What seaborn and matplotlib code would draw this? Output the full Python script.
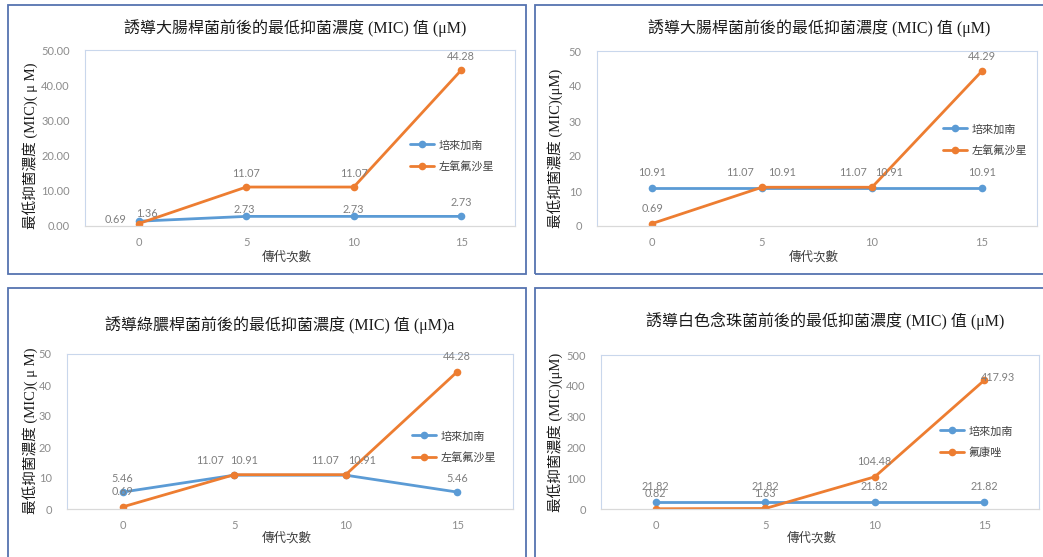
import matplotlib
matplotlib.use("Agg")
import matplotlib.pyplot as plt
from matplotlib.lines import Line2D
from matplotlib.patches import Rectangle
import pandas as pd
import seaborn as sns

# ---------------- data ----------------
passages = [0, 5, 10, 15]

# 大腸桿菌, experiment 1
ecoli1_plz = [1.36, 2.73, 2.73, 2.73]
ecoli1_lvx = [0.69, 11.07, 11.07, 44.28]
# 大腸桿菌, experiment 2
ecoli2_plz = [10.91, 10.91, 10.91, 10.91]
ecoli2_lvx = [0.69, 11.07, 11.07, 44.29]
# 綠膿桿菌
pa_plz = [5.46, 10.91, 10.91, 5.46]
pa_lvx = [0.69, 11.07, 11.07, 44.28]
# 白色念珠菌
ca_plz = [21.82, 21.82, 21.82, 21.82]
ca_flc = [0.82, 1.63, 104.48, 417.93]

name_plz = "培來加南"
name_lvx = "左氧氟沙星"
name_flc = "氟康唑"

titles = [
    "誘導大腸桿菌前後的最低抑菌濃度 (MIC) 值 (μM)",
    "誘導大腸桿菌前後的最低抑菌濃度 (MIC) 值 (μM)",
    "誘導綠膿桿菌前後的最低抑菌濃度 (MIC) 值 (μM)a",
    "誘導白色念珠菌前後的最低抑菌濃度 (MIC) 值 (μM)",
]
ylabels = [
    "最低抑菌濃度 (MIC)( μ M)",
    "最低抑菌濃度 (MIC)(μM)",
    "最低抑菌濃度 (MIC)( μ M)",
    "最低抑菌濃度 (MIC)(μM)",
]
xlabel_text = "傳代次數"
yticks_small = [0, 10, 20, 30, 40, 50]
yticks_large = [0, 100, 200, 300, 400, 500]

# ---------------- styling / layout ----------------
W, H = 1043, 557
BLUE = "#5b9bd5"
ORANGE = "#ed7d31"
LABEL_GRAY = "#7f7f7f"
TICK_GRAY = "#8c8c8c"
BORDER = "#5573b0"
FRAME = "#c9d7ec"

sns.set_style("white")
plt.rcParams["font.family"] = ["Lato", "Noto Sans CJK TC", "DejaVu Sans"]
TITLE_FONT = ["Liberation Serif", "Noto Sans CJK TC", "DejaVu Sans"]
CJK_FONT = ["Noto Sans CJK TC", "DejaVu Sans"]


def fx(x):
    return x / W


def fy(y):
    return 1 - y / H


panels = [
    dict(s1=ecoli1_plz, s2=ecoli1_lvx, n2=name_lvx, ticks=yticks_small, fmt="{:.2f}",
         box=(8, 5, 526, 274), axes=(85, 50, 515, 226),
         title_xy=(295, 28), xlab_xy=(287, 257), ylab_xy=(30, 146), leg_xy=(410, 146),
         off1=[(8, 8), (-2, 7), (0, 7), (0, 14)],
         off2=[(-23, 4), (0, 14), (0, 14), (0, 14)]),
    dict(s1=ecoli2_plz, s2=ecoli2_lvx, n2=name_lvx, ticks=yticks_small, fmt="{:d}",
         box=(535, 5, 1060, 274), axes=(597, 51, 1037, 226),
         title_xy=(819, 28), xlab_xy=(814, 257), ylab_xy=(555, 148), leg_xy=(943, 130),
         off1=[(0, 15), (20, 15), (17, 15), (0, 15)],
         off2=[(0, 15), (-22, 15), (-19, 15), (0, 14)]),
    dict(s1=pa_plz, s2=pa_lvx, n2=name_lvx, ticks=yticks_small, fmt="{:d}",
         box=(8, 288, 526, 570), axes=(67, 354, 513, 509),
         title_xy=(280, 325), xlab_xy=(287, 538), ylab_xy=(30, 431), leg_xy=(412, 437),
         off1=[(0, 14), (10, 15), (16, 15), (0, 14)],
         off2=[(0, 15), (-24, 14), (-21, 14), (0, 15)]),
    dict(s1=ca_plz, s2=ca_flc, n2=name_flc, ticks=yticks_large, fmt="{:d}",
         box=(535, 288, 1060, 570), axes=(601, 355, 1039, 509),
         title_xy=(825, 321), xlab_xy=(812, 538), ylab_xy=(555, 432), leg_xy=(940, 432),
         off1=[(0, 16), (0, 16), (0, 16), (0, 16)],
         off2=[(0, 15), (0, 15), (0, 15), (14, 3)]),
]

fig = plt.figure(figsize=(W / 100, H / 100), dpi=100)
fig.patch.set_facecolor("white")

for i, p in enumerate(panels):
    # chart border
    x0, y0, x1, y1 = p["box"]
    fig.patches.append(Rectangle((fx(x0), fy(y1)), fx(x1 - x0), (y1 - y0) / H,
                                 transform=fig.transFigure, fill=False,
                                 edgecolor=BORDER, linewidth=1.3, zorder=0))

    l, t, r, b = p["axes"]
    ax = fig.add_axes([fx(l), fy(b), fx(r - l), (b - t) / H])

    df = pd.DataFrame({
        "passage": passages * 2,
        "mic": list(p["s1"]) + list(p["s2"]),
        "drug": [name_plz] * len(passages) + [p["n2"]] * len(passages),
    })
    sns.lineplot(data=df, x="passage", y="mic", hue="drug",
                 hue_order=[name_plz, p["n2"]],
                 palette={name_plz: BLUE, p["n2"]: ORANGE},
                 marker="o", markersize=5.5, markeredgewidth=0,
                 linewidth=2.0, legend=False, ax=ax)

    # data labels
    for vals, offs in ((p["s1"], p["off1"]), (p["s2"], p["off2"])):
        for xv, yv, (dx, dy) in zip(passages, vals, offs):
            ax.annotate(f"{yv:.2f}", (xv, yv), xytext=(dx, dy),
                        textcoords="offset pixels", ha="center", va="center",
                        fontsize=7.8, color=LABEL_GRAY, zorder=5)

    ax.set_xlim(-2.5, 17.5)
    ax.set_ylim(p["ticks"][0], p["ticks"][-1])
    ax.set_xticks(passages)
    ax.set_xticklabels([str(v) for v in passages])
    ax.set_yticks(p["ticks"])
    ax.set_yticklabels([p["fmt"].format(v) for v in p["ticks"]])
    ax.tick_params(axis="both", length=0, labelsize=8, labelcolor=TICK_GRAY)
    ax.tick_params(axis="y", pad=11)
    ax.tick_params(axis="x", pad=8)
    ax.set_xlabel("")
    ax.set_ylabel("")
    for side in ("left", "top", "right"):
        ax.spines[side].set_color(FRAME)
        ax.spines[side].set_linewidth(0.8)
    ax.spines["bottom"].set_color("#d9d9d9")
    ax.spines["bottom"].set_linewidth(0.9)

    # texts
    tx, ty = p["title_xy"]
    fig.text(fx(tx), fy(ty), titles[i], ha="center", va="center",
             fontsize=11.5, family=TITLE_FONT, color="#1a1a1a")
    xx, xy = p["xlab_xy"]
    fig.text(fx(xx), fy(xy), xlabel_text, ha="center", va="center",
             fontsize=9, family=CJK_FONT, color="#404040")
    yx, yy = p["ylab_xy"]
    fig.text(fx(yx), fy(yy), ylabels[i], ha="center", va="center",
             rotation=90, fontsize=10.5, family=TITLE_FONT, color="#1a1a1a")

    # legend
    handles = [Line2D([], [], color=BLUE, lw=2.0, marker="o", markersize=5.5, markeredgewidth=0),
               Line2D([], [], color=ORANGE, lw=2.0, marker="o", markersize=5.5, markeredgewidth=0)]
    lx, ly = p["leg_xy"]
    fig.legend(handles, [name_plz, p["n2"]], loc="upper left",
               bbox_to_anchor=(fx(lx), fy(ly - 6)), frameon=False,
               prop={"family": CJK_FONT, "size": 8}, handlelength=2.2,
               handletextpad=0.4, labelspacing=0.95, borderpad=0, borderaxespad=0,
               labelcolor="#404040")

fig.savefig("out.png", dpi=100, facecolor="white")
